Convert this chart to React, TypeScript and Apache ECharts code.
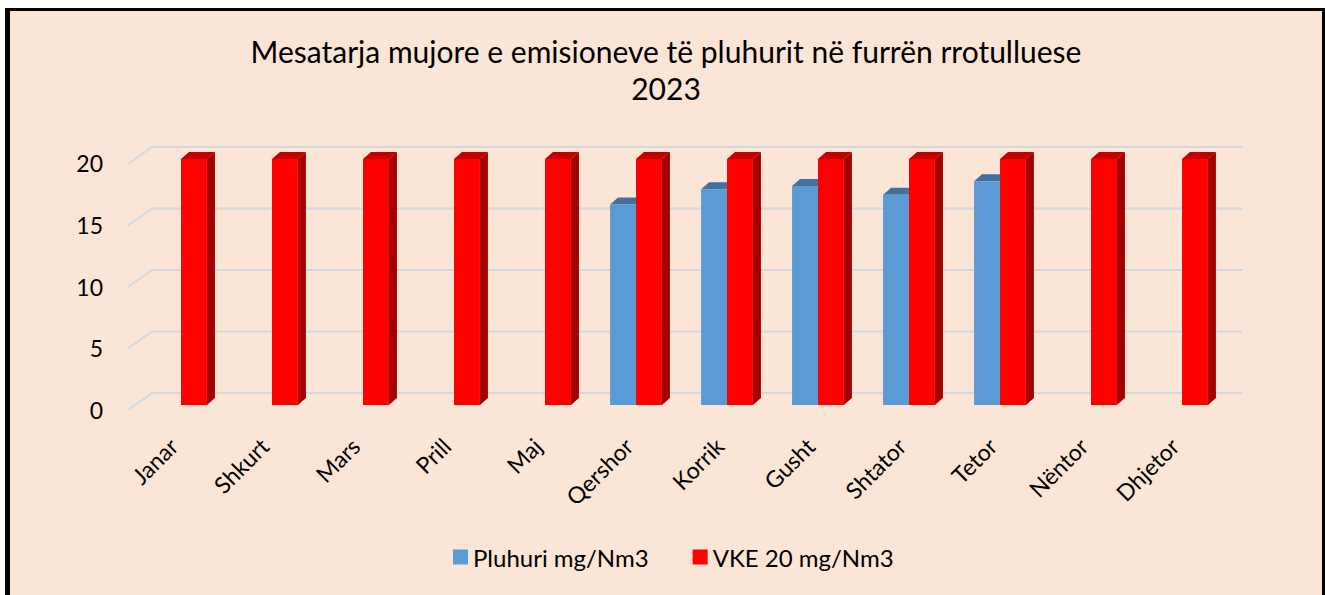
import React, { useEffect, useRef } from "react";
import * as echarts from "echarts";

const months = ["Janar", "Shkurt", "Mars", "Prill", "Maj", "Qershor", "Korrik", "Gusht", "Shtator", "Tetor", "Nëntor", "Dhjetor"];
const pluhuri = [null, null, null, null, null, 16.3, 17.55, 17.8, 17.1, 18.2, null, null];
const vke = [20, 20, 20, 20, 20, 20, 20, 20, 20, 20, 20, 20];
const yTicks = [0, 5, 10, 15, 20];
const titleLine1 = "Mesatarja mujore e emisioneve të pluhurit në furrën rrotulluese";
const titleLine2 = "2023";

const FONT = "Lato";
const DX = 8;
const DY = -7;

function barRenderer(side: "left" | "right", front: string, top: string, sideColor: string) {
  return (params: any, api: any) => {
    const v = api.value(1);
    if (v == null || isNaN(v)) return null;
    const p = api.coord([api.value(0), v]);
    const base = api.coord([api.value(0), 0]);
    const band = api.size([1, 0])[0];
    const w = band * 0.285;
    const x0 = side === "left" ? p[0] - w : p[0];
    const x1 = x0 + w;
    const yT = p[1];
    const yB = base[1];
    return {
      type: "group",
      children: [
        { type: "polygon", shape: { points: [[x1, yT], [x1 + DX, yT + DY], [x1 + DX, yB + DY], [x1, yB]] }, style: { fill: sideColor } },
        { type: "polygon", shape: { points: [[x0, yT], [x0 + DX, yT + DY], [x1 + DX, yT + DY], [x1, yT]] }, style: { fill: top } },
        { type: "rect", shape: { x: x0, y: yT, width: w, height: yB - yT }, style: { fill: front } },
      ],
    };
  };
}

export default function App() {
  const ref = useRef<HTMLDivElement>(null);
  useEffect(() => {
    if (!ref.current) return;
    const chart = echarts.init(ref.current, null, { renderer: "svg" });
    const titleStyle = { fontFamily: FONT, fontSize: 30, fontWeight: "normal", color: "#000000" };
    chart.setOption({
      animation: false,
      backgroundColor: "#ffffff",
      textStyle: { fontFamily: FONT },
      graphic: [
        { type: "rect", z: -10, shape: { x: 5, y: 8, width: 1320, height: 600 }, style: { fill: "#000000" } },
        { type: "rect", z: -9, shape: { x: 10, y: 11, width: 1312, height: 600 }, style: { fill: "#FBE5D6" } },
      ],
      title: [
        { text: titleLine1, left: 661, textAlign: "center", top: 31, textStyle: titleStyle },
        { text: titleLine2, left: 661, textAlign: "center", top: 68, textStyle: titleStyle },
      ],
      legend: {
        data: ["Pluhuri mg/Nm3", "VKE 20 mg/Nm3"],
        left: 448,
        top: 540,
        icon: "rect",
        itemWidth: 15,
        itemHeight: 15,
        itemGap: 44,
        textStyle: { fontFamily: FONT, fontSize: 24, color: "#000000" },
      },
      grid: [
        { left: 135.5, top: 159, width: 1092, height: 246 },
        { left: 128, top: 163, width: 1092, height: 247 },
      ],
      xAxis: [
        {
          type: "category",
          gridIndex: 0,
          data: months,
          axisLine: { show: false },
          axisTick: { show: false },
          axisLabel: { show: false },
        },
        {
          type: "category",
          gridIndex: 1,
          data: months,
          axisLine: { show: false },
          axisTick: { show: false },
          axisLabel: { interval: 0, rotate: 45, margin: 32, fontSize: 23, color: "#000000", fontFamily: FONT },
        },
      ],
      yAxis: [
        { type: "value", gridIndex: 0, min: 0, max: 20, interval: 5, show: false },
        {
          type: "value",
          gridIndex: 1,
          min: 0,
          max: 20,
          interval: 5,
          axisLine: { show: false },
          axisTick: { show: false },
          splitLine: { show: false },
          axisLabel: { margin: 25, fontSize: 23, color: "#000000", fontFamily: FONT },
        },
      ],
      series: [
        {
          type: "custom",
          name: "grid",
          xAxisIndex: 0,
          yAxisIndex: 0,
          data: yTicks.map((v) => [0, v]),
          silent: true,
          renderItem: (params: any, api: any) => {
            const y = api.coord([0, api.value(1)])[1];
            const cs = params.coordSys;
            return {
              type: "polyline",
              shape: { points: [[cs.x - 7.5, y + 5], [cs.x + 16.5, y - 12], [cs.x + cs.width + 14.5, y - 12]] },
              style: { stroke: "#D3D8DF", lineWidth: 2, fill: "none" },
            };
          },
        },
        {
          type: "custom",
          name: "Pluhuri mg/Nm3",
          xAxisIndex: 0,
          yAxisIndex: 0,
          itemStyle: { color: "#5B9BD5" },
          data: pluhuri.map((v, i) => [i, v == null ? NaN : v]),
          renderItem: barRenderer("left", "#5B9BD5", "#41719C", "#41719C"),
        },
        {
          type: "custom",
          name: "VKE 20 mg/Nm3",
          xAxisIndex: 0,
          yAxisIndex: 0,
          itemStyle: { color: "#FF0000" },
          data: vke.map((v, i) => [i, v]),
          renderItem: barRenderer("right", "#FF0000", "#C00000", "#A50000"),
        },
      ],
    });
    return () => chart.dispose();
  }, []);
  return <div ref={ref} style={{ position: "fixed", left: 0, top: 0, width: 1325, height: 595 }} />;
}
